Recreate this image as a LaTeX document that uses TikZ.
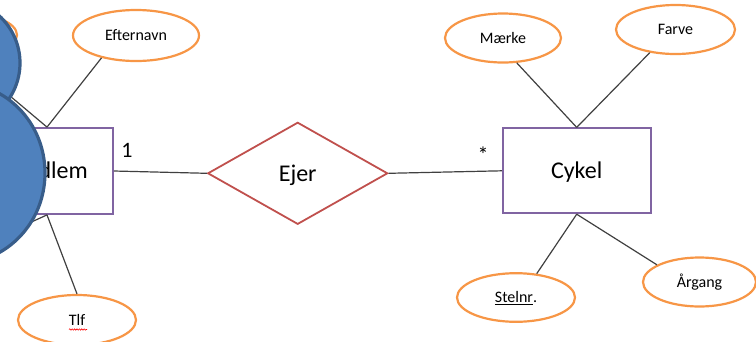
\documentclass[tikz,border=0pt]{standalone}
\usepackage{fontspec}
\setmainfont{Carlito}
\usetikzlibrary{shapes.geometric,decorations.pathmorphing}
\definecolor{attrc}{HTML}{F79646}
\definecolor{entc}{HTML}{8064A2}
\definecolor{relc}{HTML}{C0504D}
\definecolor{blobfill}{HTML}{4F81BD}
\definecolor{blobline}{HTML}{385D8A}
\definecolor{connc}{HTML}{404040}
\begin{document}
\begin{tikzpicture}[x=1pt,y=-1pt,
  attrbox/.style={ellipse, draw=attrc, line width=2.2pt, fill=white, inner sep=0pt,
    font=\fontsize{16}{18}\selectfont, text height=10.3pt, text depth=0pt},
  entbox/.style={rectangle, draw=entc, line width=1.8pt, fill=white, inner sep=0pt,
    minimum width=148pt, minimum height=85pt, font=\fontsize{24}{28}\selectfont,
    text height=15.5pt, text depth=0pt},
  relbox/.style={diamond, draw=relc, line width=1.8pt, fill=white, inner sep=0pt,
    minimum width=180pt, minimum height=102pt, font=\fontsize{24}{28}\selectfont,
    text height=15.5pt, text depth=0pt},
  link/.style={draw=connc, line width=1.2pt},
  card/.style={inner sep=0pt, font=\fontsize{22}{26}\selectfont},
  blob/.style={fill=blobfill, draw=blobline, line width=3.2pt}
]
\useasboundingbox (0,0) rectangle (756,341);
\clip (0,0) rectangle (756,341);

% hidden attribute behind the icon
\node[attrbox, minimum width=104pt, minimum height=44pt] (hidattr) at (-35,35) {};
\coordinate (hidlow) at (-30,250);

% entities and relation
\node[entbox, minimum width=132pt, minimum height=86pt] (medlem) at (47,171) {Medlem};
\node[entbox, minimum height=85pt] (cykel) at (576.7,170.8) {Cykel};
\node[relbox] (ejer) at (297.7,173.3) {Ejer};

% attributes
\node[attrbox, minimum width=126pt, minimum height=51pt] (eftn) at (136,35.5) {Efternavn};
\node[attrbox, minimum width=118pt, minimum height=50pt] (tlf) at (77,320) {Tlf};
\node[attrbox, minimum width=116pt, minimum height=49pt] (maerke) at (503,38) {Mærke};
\node[attrbox, minimum width=119pt, minimum height=49pt] (farve) at (675.5,29.5) {Farve};
\node[attrbox, minimum width=118pt, minimum height=48.6pt] (stelnr) at (516,297.5) {\underline{Stelnr}.};
\node[attrbox, minimum width=113pt, minimum height=49pt] (argang) at (699.5,282) {Årgang};

% connectors
\draw[link] (medlem.north) -- (eftn.213);
\draw[link] (medlem.north) -- (hidattr.south);
\draw[link] (medlem.south) -- (tlf.north);
\draw[link] (medlem.south) -- (hidlow);
\draw[link] (medlem.east) -- (ejer.west);
\draw[link] (ejer.east) -- (cykel.west);
\draw[link] (cykel.north) -- (maerke.299);
\draw[link] (cykel.north) -- (farve.222);
\draw[link] (cykel.south) -- (stelnr.49);
\draw[link] (cykel.south) -- (argang.158);

% cardinalities
\node[card] (one) at (127,150.5) {1};
\node[card] (star) at (483,155) {*};

% spell-check squiggle under Tlf
\coordinate (sqa) at (69,329.5);
\coordinate (sqb) at (87,329.5);
\draw[red, line width=0.6pt, decorate, decoration={snake, amplitude=0.7pt, segment length=2.4pt}] (sqa) -- (sqb);

% person icon
\draw[blob] (-44,63) circle[radius=64pt];
\draw[blob] (-41,173) ellipse[x radius=86pt, y radius=90pt];
\end{tikzpicture}
\end{document}
